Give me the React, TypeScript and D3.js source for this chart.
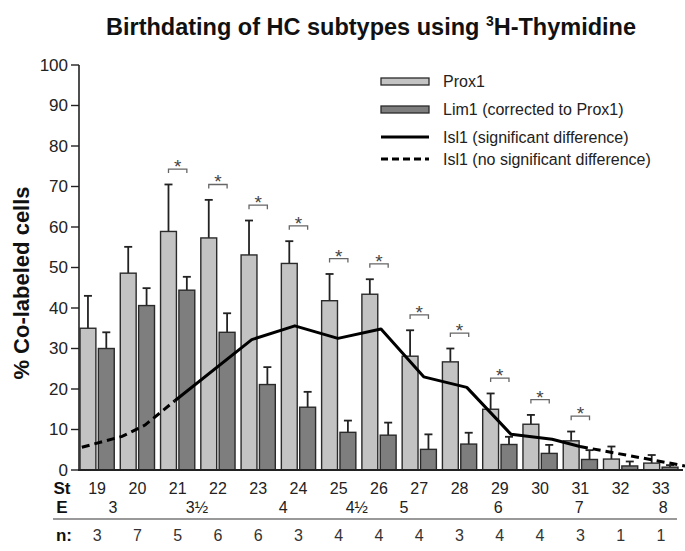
import React from 'react';
import * as d3 from 'd3';

const stages = ['19', '20', '21', '22', '23', '24', '25', '26', '27', '28', '29', '30', '31', '32', '33'];
const prox1 = [35.0, 48.6, 58.9, 57.3, 53.1, 51.0, 41.8, 43.4, 28.1, 26.7, 15.0, 11.3, 7.2, 2.7, 1.7];
const prox1Err = [8.0, 6.5, 11.6, 9.4, 8.5, 5.5, 6.6, 3.7, 6.4, 3.3, 3.9, 2.3, 2.3, 3.1, 2.0];
const lim1 = [30.0, 40.6, 44.4, 34.0, 21.1, 15.5, 9.3, 8.6, 5.1, 6.4, 6.3, 4.1, 2.6, 1.0, 0.7];
const lim1Err = [4.0, 4.3, 3.3, 4.7, 4.3, 3.8, 2.9, 3.1, 3.7, 2.8, 1.9, 2.1, 2.3, 1.1, 0.5];
const significant = [false, false, true, true, true, true, true, true, true, true, true, true, true, false, false];
const nValues = [3, 7, 5, 6, 6, 3, 4, 4, 4, 3, 4, 4, 3, 1, 1];

// Isl1 line (drawn on its own stage positions, as in the figure)
const isl1Stage = [18.62, 19.62, 20.19, 20.93, 22.84, 23.91, 24.98, 26.05, 27.11, 28.18, 29.28, 30.3, 30.99, 33.6];
const isl1Value = [5.6, 8.3, 11.1, 17.1, 32.2, 35.6, 32.5, 34.8, 23.0, 20.4, 8.8, 7.6, 5.8, 1.0];
const isl1SolidFrom = 3;
const isl1SolidTo = 12;

const eLabels = ['3', '3½', '4', '4½', '5', '6', '7', '8'];
const eStage = [19.39, 21.48, 23.62, 25.45, 26.62, 28.96, 30.97, 33.06];

const yTicks = [0, 10, 20, 30, 40, 50, 60, 70, 80, 90, 100];
const legendItems = ['Prox1', 'Lim1 (corrected to Prox1)', 'Isl1 (significant difference)', 'Isl1 (no significant difference)'];

const W = 685;
const H = 551;
const FONT = '"Liberation Sans", Arial, Helvetica, sans-serif';
const PROX_FILL = '#c3c3c3';
const LIM_FILL = '#7e7e7e';
const DARK = '#222';

export default function App() {
  const x = d3.scaleBand<string>().domain(stages).range([78, 680]).paddingInner(0.15).paddingOuter(0.05);
  const inner = d3.scaleBand<string>().domain(['Prox1', 'Lim1']).range([0, x.bandwidth()]).paddingInner(0.135);
  const y = d3.scaleLinear().domain([0, 100]).range([470, 65]);
  const c0 = (x(stages[0]) as number) + x.bandwidth() / 2;
  const c1 = (x(stages[stages.length - 1]) as number) + x.bandwidth() / 2;
  const sx = d3.scaleLinear().domain([19, 33]).range([c0, c1]);

  const line = d3.line<[number, number]>().x((d) => sx(d[0])).y((d) => y(d[1]));
  const pts: [number, number][] = isl1Stage.map((s, i) => [s, isl1Value[i]]);
  const dashedA = pts.slice(0, isl1SolidFrom + 1);
  const solid = pts.slice(isl1SolidFrom, isl1SolidTo + 1);
  const dashedB = pts.slice(isl1SolidTo);

  const bw = inner.bandwidth();

  const renderBar = (i: number, key: 'Prox1' | 'Lim1', v: number, e: number, fill: string) => {
    const bx = (x(stages[i]) as number) + (inner(key) as number);
    const cx = bx + bw / 2;
    return (
      <g key={key + i}>
        <line x1={cx} x2={cx} y1={y(v)} y2={y(v + e)} stroke={DARK} strokeWidth={1.8} />
        <line x1={cx - 4} x2={cx + 4} y1={y(v + e)} y2={y(v + e)} stroke={DARK} strokeWidth={1.8} />
        <rect x={bx} y={y(v)} width={bw} height={y(0) - y(v)} fill={fill} stroke="#2a2a2a" strokeWidth={1.4} />
      </g>
    );
  };

  return (
    <svg width={W} height={H} style={{ position: 'absolute', left: 0, top: 0, background: '#fff' }} fontFamily={FONT}>
      <rect width={W} height={H} fill="#fff" />
      {/* Title */}
      <text x={371} y={35} textAnchor="middle" fontSize={23.5} fontWeight="bold" fill="#111">
        Birthdating of HC subtypes using <tspan fontSize={14} dy={-9}>3</tspan>
        <tspan dy={9}>H-Thymidine</tspan>
      </text>

      {/* Y axis */}
      <line x1={79} x2={79} y1={y(100)} y2={y(0)} stroke={DARK} strokeWidth={1.6} />
      {yTicks.map((t) => (
        <g key={t}>
          <line x1={71} x2={79} y1={y(t)} y2={y(t)} stroke={DARK} strokeWidth={1.4} />
          <text x={68} y={y(t)} dy="0.35em" textAnchor="end" fontSize={17} fill={DARK}>
            {t}
          </text>
        </g>
      ))}
      <text
        transform={`translate(29,${283}) rotate(-90)`}
        textAnchor="middle"
        fontSize={22}
        fontWeight="bold"
        fill="#111"
      >
        % Co-labeled cells
      </text>

      {/* Bars */}
      {stages.map((s, i) => (
        <g key={s}>
          {renderBar(i, 'Prox1', prox1[i], prox1Err[i], PROX_FILL)}
          {renderBar(i, 'Lim1', lim1[i], lim1Err[i], LIM_FILL)}
        </g>
      ))}

      {/* Significance brackets */}
      {stages.map((s, i) => {
        if (!significant[i]) return null;
        const bx = x(s) as number;
        const xa = bx + (inner('Prox1') as number) + bw / 2;
        const xb = bx + (inner('Lim1') as number) + bw / 2;
        const by = y(prox1[i] + prox1Err[i] + 3.8);
        return (
          <g key={'sig' + s}>
            <path d={`M${xa},${by + 4}V${by}H${xb}V${by + 4}`} fill="none" stroke="#666" strokeWidth={1.3} />
            <text x={(xa + xb) / 2} y={by + 4} textAnchor="middle" fontSize={19} fill="#444">
              *
            </text>
          </g>
        );
      })}

      {/* Isl1 line */}
      <path d={line(dashedA) || ''} fill="none" stroke="#000" strokeWidth={3} strokeDasharray="8,5" />
      <path d={line(solid) || ''} fill="none" stroke="#000" strokeWidth={3} strokeLinejoin="round" />
      <path d={line(dashedB) || ''} fill="none" stroke="#000" strokeWidth={3} strokeDasharray="8,5" />

      {/* X baseline */}
      <line x1={78} x2={683} y1={y(0)} y2={y(0)} stroke={DARK} strokeWidth={2} />

      {/* Legend */}
      <g>
        <rect x={381} y={78} width={48} height={7} fill={PROX_FILL} stroke="#2a2a2a" strokeWidth={1.3} />
        <rect x={381} y={106} width={48} height={7} fill={LIM_FILL} stroke="#2a2a2a" strokeWidth={1.3} />
        <line x1={381} x2={429} y1={137} y2={137} stroke="#000" strokeWidth={3} />
        <line x1={381} x2={429} y1={159} y2={159} stroke="#000" strokeWidth={3} strokeDasharray="7,4" />
        {legendItems.map((t, i) => (
          <text key={t} x={443} y={[87, 115, 143, 165][i]} fontSize={16} fill={DARK}>
            {t}
          </text>
        ))}
      </g>

      {/* Bottom stage table */}
      <text x={62} y={494} textAnchor="middle" fontSize={17} fontWeight="bold" fill="#111">St</text>
      {stages.map((s) => (
        <text key={'st' + s} x={(x(s) as number) + x.bandwidth() / 2} y={494} textAnchor="middle" fontSize={16} fill="#222">
          {s}
        </text>
      ))}
      <text x={62} y={513} textAnchor="middle" fontSize={17} fontWeight="bold" fill="#111">E</text>
      {eLabels.map((t, i) => (
        <text key={'e' + i} x={sx(eStage[i])} y={513} textAnchor="middle" fontSize={16} fill="#222">
          {t}
        </text>
      ))}
      <line x1={53} x2={677} y1={519} y2={519} stroke="#777" strokeWidth={1.5} />
      <text x={64} y={541} textAnchor="middle" fontSize={17} fontWeight="bold" fill="#111">n:</text>
      {stages.map((s, i) => (
        <text key={'n' + s} x={(x(s) as number) + x.bandwidth() / 2} y={541} textAnchor="middle" fontSize={16} fill="#333">
          {nValues[i]}
        </text>
      ))}
    </svg>
  );
}
